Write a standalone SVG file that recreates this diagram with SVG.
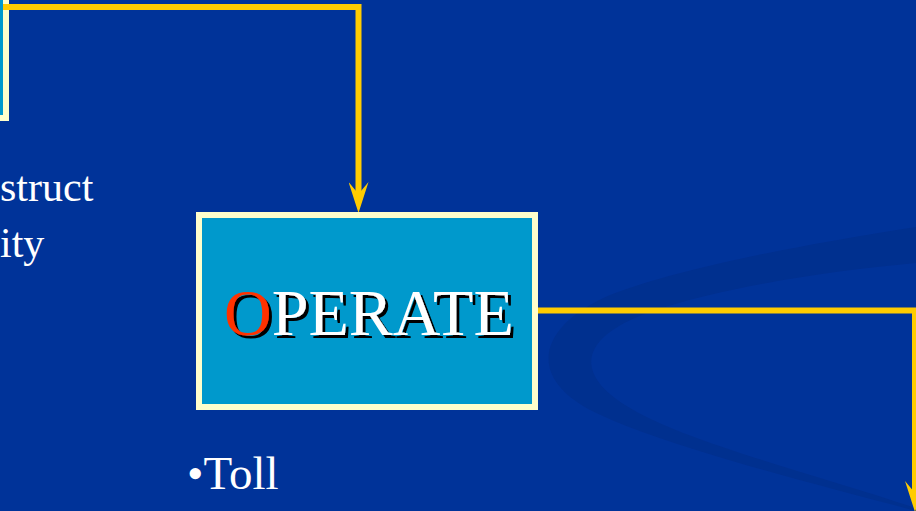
<svg xmlns="http://www.w3.org/2000/svg" width="916" height="511" viewBox="0 0 916 511">
<style>
.conn{fill:none;stroke:#FFCC00;stroke-width:6;stroke-linejoin:miter}
.box{fill:#0099CC;stroke:#FFFFCC;stroke-width:6}
.body{font-family:"Liberation Serif","Times New Roman",serif;font-size:42px;fill:#FFFFFF}
.title{font-family:"Liberation Serif","Times New Roman",serif;font-size:66px;fill:#FFFFFF}
</style>
<defs>
<marker id="arr" markerUnits="userSpaceOnUse" markerWidth="31" markerHeight="20" viewBox="0 0 31 20" refX="12" refY="10" orient="auto">
<path d="M0,0 L31,10 L0,20 L12,10 z" fill="#FFCC00"/>
</marker>
<filter id="shadow" x="-10%" y="-20%" width="120%" height="140%">
<feOffset in="SourceAlpha" dx="3" dy="3" result="off"/>
<feFlood flood-color="#000000"/>
<feComposite in2="off" operator="in" result="sh"/>
<feMerge><feMergeNode in="sh"/><feMergeNode in="SourceGraphic"/></feMerge>
</filter>
</defs>
<rect width="916" height="511" fill="#003399"/>
<path id="swoosh" d="M916,227 C800,245 680,268 610,295 C540,325 525,375 590,410 C660,445 800,480 916,511 L916,508 C800,470 680,440 625,405 C570,370 585,335 650,312 C720,288 820,272 916,263 Z" fill="#00308F"/>
<g id="box-prev">
<rect class="box" x="-10" y="-10" width="16" height="128"/>
</g>
<g id="connectors">
<path class="conn" d="M3,7 H358.5 V194" marker-end="url(#arr)"/>
<path class="conn" d="M532,310.5 H915 V493" marker-end="url(#arr)"/>
</g>
<g id="operate">
<rect class="box" x="199" y="215" width="336" height="192"/>
<text class="title" x="224" y="335" filter="url(#shadow)"><tspan fill="#FF3300">O</tspan>PERATE</text>
</g>
<g id="labels">
<text class="body" x="0" y="201">struct</text>
<text class="body" x="0" y="257">ity</text>
<text class="body" x="187" y="489" style="font-size:47px">•Toll</text>
</g>
</svg>
